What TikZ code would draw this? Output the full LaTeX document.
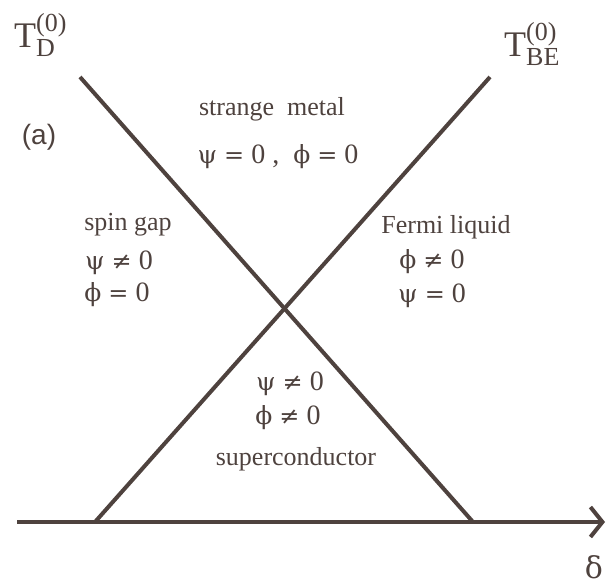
\documentclass[tikz,border=0pt]{standalone}
\usepackage{fontspec}
\setmainfont{Liberation Serif}
\newfontfamily\gk{DejaVu Serif}
\newfontfamily\sans{Liberation Sans}
\usetikzlibrary{arrows.meta}
\definecolor{ink}{RGB}{78,66,62}
\newcommand{\gpsi}{{\gk\fontsize{25}{28}\selectfont ψ}}
\newcommand{\gphi}{{\gk\fontsize{25}{28}\selectfont ϕ}}
\newcommand{\gne}{{\gk\fontsize{24}{28}\selectfont ≠}}
\newcommand{\geql}{{\gk\fontsize{24}{28}\selectfont =}}
\newcommand{\Tlabel}[1]{T\makebox[0pt][l]{\raisebox{0.45em}{\fontsize{26}{28}\selectfont (0)}}\raisebox{-0.24em}{\fontsize{26}{28}\selectfont #1}}
\begin{document}
\begin{tikzpicture}[x=1pt,y=-1pt,
  lbl/.style={text=ink,inner sep=0pt,font=\fontsize{26}{30}\selectfont},
  eq/.style={text=ink,inner sep=0pt,font=\fontsize{28}{30}\selectfont},
  big/.style={text=ink,inner sep=0pt,font=\fontsize{36}{40}\selectfont},
  bound/.style={draw=ink,line width=4pt}]
\useasboundingbox (0,0) rectangle (606,588);
\coordinate (d1) at (80,77);
\coordinate (d2) at (473,522);
\coordinate (b1) at (490,77);
\coordinate (b2) at (95,522);
\coordinate (a1) at (17,522);
\coordinate (a2) at (605,522);
\draw[bound] (d1) -- (d2);
\draw[bound] (b1) -- (b2);
\draw[bound,-{Straight Barb[length=12pt,width=30pt,line width=4pt]}] (a1) -- (a2);
\node[big,anchor=base west] (td) at (14,48) {\Tlabel{D}};
\node[big,anchor=base west] (tbe) at (504,57) {\Tlabel{BE}};
\node[text=ink,inner sep=0pt,font=\sans\fontsize{28}{30}\selectfont] (a) at (39,137) {(a)};
\node[text=ink,inner sep=0pt,font=\gk\fontsize{30}{34}\selectfont] (delta) at (594,567) {δ};
\node[lbl] (sm) at (272,109) {strange\ \ metal};
\node[eq] (sm2) at (278,157) {\gpsi\ \geql\ 0\ ,\ \ \gphi\ \geql\ 0};
\node[lbl] (sg) at (128,225) {spin gap};
\node[eq] (sg2) at (119,263) {\gpsi\ \gne\ 0};
\node[eq] (sg3) at (117,295) {\gphi\ \geql\ 0};
\node[lbl] (fl) at (446,227) {Fermi liquid};
\node[eq] (fl2) at (432,262) {\gphi\ \gne\ 0};
\node[eq] (fl3) at (432,296) {\gpsi\ \geql\ 0};
\node[eq] (sc1) at (290,384) {\gpsi\ \gne\ 0};
\node[eq] (sc2) at (288,418) {\gphi\ \gne\ 0};
\node[lbl] (sc3) at (296,459) {superconductor};
\end{tikzpicture}
\end{document}
